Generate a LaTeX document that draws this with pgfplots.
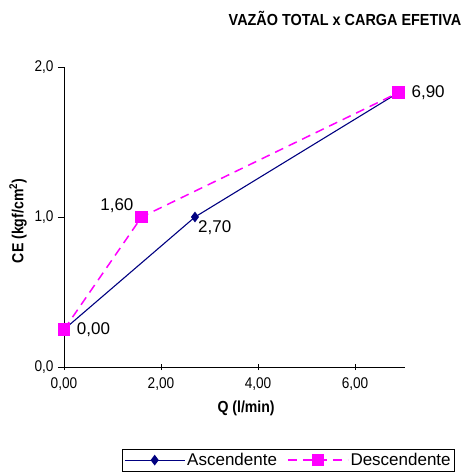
\documentclass[border=0pt]{standalone}
\usepackage{fontspec}
\setmainfont{Liberation Sans}
\newfontfamily\narrow[FakeStretch=0.88]{Liberation Sans}
\newfontfamily\titlefont[FakeStretch=0.9]{Liberation Sans}
\usepackage{pgfplots}
\pgfplotsset{compat=1.18}
\definecolor{navyc}{RGB}{0,0,128}
\definecolor{magc}{RGB}{255,0,255}
\pgfplotsset{lbl/.style={forget plot, only marks, mark=none, nodes near coords, point meta=explicit symbolic,
  every node near coord/.append style={font=\fontsize{17}{17}\selectfont, anchor=#1, inner sep=3pt, text=black}}}
\begin{document}
\begin{tikzpicture}[x=1pt,y=1pt]
\begin{axis}[
  at={(64pt,108pt)}, anchor=south west,
  scale only axis, width=341pt, height=300pt,
  xmin=0, xmax=7.03, ymin=0, ymax=2,
  axis x line*=bottom, axis y line*=left,
  axis line style={black, line width=0.8pt},
  xtick={0,2,4,6}, xticklabels={{0,00},{2,00},{4,00},{6,00}},
  ytick={0,1,2}, yticklabels={{0,0},{1,0},{2,0}},
  xticklabel style={font=\narrow\fontsize{15.5}{15.5}\selectfont, yshift=-4pt},
  yticklabel style={font=\narrow\fontsize{15.5}{15.5}\selectfont, xshift=-1pt},
  major tick length=6pt,
  x tick style={black, line width=0.6pt},
  xtick align=center,
  y tick style={black, line width=0.6pt},
  ytick align=outside,
  xlabel={Q (l/min)}, ylabel={CE (kgf/cm\textsuperscript{2})},
  xlabel style={font=\narrow\bfseries\fontsize{16}{16}\selectfont, at={(axis description cs:0.534,-0.137)}, anchor=center},
  ylabel style={font=\narrow\bfseries\fontsize{16}{16}\selectfont, at={(axis description cs:-0.135,0.487)}, anchor=center},
  legend style={at={(axis description cs:1.1466,-0.273)}, anchor=north east, draw=black, line width=0.6pt,
    font=\fontsize{17}{17}\selectfont, legend columns=2,
    /tikz/every even column/.append style={column sep=8pt},
    inner sep=2pt},
  legend image code/.code={\draw[#1, mark=none] (0pt,0pt) -- (60pt,0pt);
    \draw[#1, only marks, mark repeat=1] plot coordinates {(30pt,0pt)};},
  clip=false,
]
\addplot[color=navyc, line width=1.1pt, mark=diamond*, mark size=4.5pt, mark options={solid, fill=navyc}]
  coordinates {(0,0.25) (2.7,1.0) (6.9,1.83)};
\addlegendentry{Ascendente}
\addplot[color=magc, line width=1.5pt, dash pattern=on 9pt off 6pt, mark=square*, mark size=5.5pt, mark options={solid, fill=magc}]
  coordinates {(0,0.25) (1.6,1.0) (6.9,1.83)};
\addlegendentry{Descendente}
\addplot[lbl=west] coordinates {(0.2,0.25) [0,00] (7.1,1.83) [6,90]};
\addplot[lbl=north west] coordinates {(2.7,1.0) [2,70]};
\addplot[lbl=south east, every node near coord/.append style={xshift=-5pt, yshift=1pt}] coordinates {(1.6,1.0) [1,60]};
\end{axis}
\node[font=\titlefont\bfseries\fontsize{16}{16}\selectfont] at (345pt,457pt) {VAZÃO TOTAL x CARGA EFETIVA};
\pgfresetboundingbox
\path[use as bounding box] (0,0) rectangle (463pt,475pt);
\end{tikzpicture}
\end{document}
